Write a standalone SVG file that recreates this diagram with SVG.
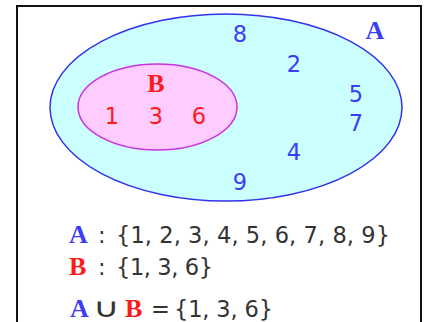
<svg xmlns="http://www.w3.org/2000/svg" width="427" height="322" viewBox="0 0 427 322">
<style>
.num{font-family:"DejaVu Sans",Verdana,sans-serif;font-size:22.5px;text-anchor:middle}
.blue{fill:#3d3df5}
.red{fill:#ff1a1a}
.lbl{font-family:"Liberation Serif","Times New Roman",serif;font-weight:bold;font-size:26px}
.txt{font-family:"DejaVu Sans",Verdana,sans-serif;font-size:22.5px;fill:#333}
</style>
<rect x="0" y="0" width="427" height="322" fill="#fff"/>
<rect id="frame" x="17" y="6" width="404" height="340" fill="#fff" stroke="#111" stroke-width="2"/>
<g id="setA">
<ellipse cx="226" cy="107.5" rx="176" ry="93.5" fill="#ccffff" stroke="#3333ee" stroke-width="1.5"/>
<text class="lbl blue" x="375" y="39" text-anchor="middle">A</text>
<text class="num blue" x="240" y="42">8</text>
<text class="num blue" x="294" y="72">2</text>
<text class="num blue" x="356" y="102">5</text>
<text class="num blue" x="356" y="131">7</text>
<text class="num blue" x="294" y="160">4</text>
<text class="num blue" x="240" y="190">9</text>
</g>
<g id="setB">
<ellipse cx="157.5" cy="107" rx="79.5" ry="43" fill="#ffccff" stroke="#cc33dd" stroke-width="1.5"/>
<text class="lbl red" x="156" y="92" text-anchor="middle">B</text>
<text class="num red" x="112" y="124">1</text>
<text class="num red" x="156" y="124">3</text>
<text class="num red" x="199" y="124">6</text>
</g>
<g id="legend">
<text class="lbl blue" x="69" y="243">A</text>
<text class="txt" x="98" y="243">:</text>
<text class="txt" x="116" y="243" textLength="274" lengthAdjust="spacing">{1, 2, 3, 4, 5, 6, 7, 8, 9}</text>
<text class="lbl red" x="69" y="275">B</text>
<text class="txt" x="98" y="275">:</text>
<text class="txt" x="116" y="275" textLength="97" lengthAdjust="spacing">{1, 3, 6}</text>
<text class="lbl blue" x="70" y="317">A</text>
<text class="txt" transform="translate(106,317) scale(1.35,1)" x="0" y="0" text-anchor="middle" style="font-size:27px">∪</text>
<text class="lbl red" x="125" y="317">B</text>
<text class="txt" x="151" y="317">=</text>
<text class="txt" x="174" y="317" textLength="99" lengthAdjust="spacing">{1, 3, 6}</text>
</g>
</svg>
